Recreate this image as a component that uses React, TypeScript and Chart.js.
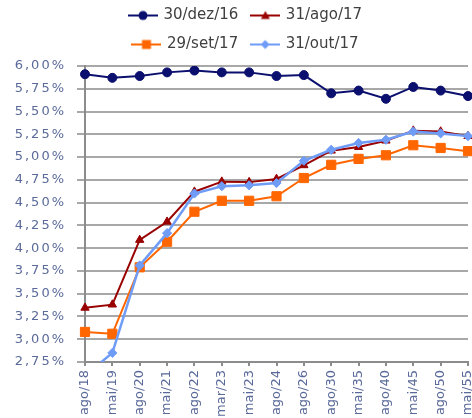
import React, { useEffect, useRef } from 'react';
import { Chart, registerables } from 'chart.js';

Chart.register(...registerables);

const categories = ['ago/18', 'mai/19', 'ago/20', 'mai/21', 'ago/22', 'mar/23', 'mai/23', 'ago/24', 'ago/26', 'ago/30', 'mai/35', 'ago/40', 'mai/45', 'ago/50', 'mai/55'];
const seriesNames = ['30/dez/16', '31/ago/17', '29/set/17', '31/out/17'];
const dez16 = [5.91, 5.87, 5.89, 5.93, 5.95, 5.93, 5.93, 5.89, 5.9, 5.7, 5.73, 5.64, 5.77, 5.73, 5.67];
const ago17 = [3.345, 3.38, 4.09, 4.29, 4.62, 4.73, 4.725, 4.76, 4.91, 5.07, 5.11, 5.18, 5.29, 5.28, 5.23];
const set17 = [3.08, 3.06, 3.79, 4.07, 4.4, 4.52, 4.52, 4.57, 4.77, 4.915, 4.98, 5.02, 5.13, 5.1, 5.065];
const out17 = [2.6, 2.85, 3.81, 4.165, 4.6, 4.68, 4.69, 4.715, 4.96, 5.08, 5.155, 5.19, 5.28, 5.26, 5.23];
const yMin = 2.75;
const yMax = 6.0;
const yStep = 0.25;

const FONT = 'DejaVu Sans';
const colors = ['#0b0f6e', '#990000', '#ff6600', '#6f9cf7'];
const markers = ['circle', 'triangle', 'rect', 'rectRot'];

function makeSample(color: string, marker: string): HTMLCanvasElement {
  const c = document.createElement('canvas');
  c.width = 30;
  c.height = 14;
  const ctx = c.getContext('2d')!;
  ctx.strokeStyle = color;
  ctx.fillStyle = color;
  ctx.lineWidth = 2;
  ctx.beginPath();
  ctx.moveTo(0, 7);
  ctx.lineTo(30, 7);
  ctx.stroke();
  ctx.beginPath();
  if (marker === 'circle') {
    ctx.arc(15, 7, 4.5, 0, Math.PI * 2);
  } else if (marker === 'triangle') {
    ctx.moveTo(15, 2.5);
    ctx.lineTo(19.5, 10.5);
    ctx.lineTo(10.5, 10.5);
    ctx.closePath();
  } else if (marker === 'rect') {
    ctx.rect(10.5, 2.5, 9, 9);
  } else {
    ctx.moveTo(15, 2.5);
    ctx.lineTo(19.5, 7);
    ctx.lineTo(15, 11.5);
    ctx.lineTo(10.5, 7);
    ctx.closePath();
  }
  ctx.fill();
  return c;
}

export default function App() {
  const ref = useRef<HTMLCanvasElement>(null);

  useEffect(() => {
    const canvas = ref.current!;
    const samples = colors.map((c, i) => makeSample(c, markers[i]));
    const seriesData = [dez16, ago17, set17, out17];
    const radii = [4.5, 4.8, 6.5, 4.6];
    const widths = [2, 2, 2, 2.5];
    const orders = [3, 2, 1, 0];

    const spacingPlugin = {
      id: 'yLabelSpacing',
      afterDatasetsDraw(chart: any) {
        chart.ctx.letterSpacing = '2px';
      },
      afterDraw(chart: any) {
        chart.ctx.letterSpacing = '0px';
      },
    };

    const chart = new Chart(canvas, {
      type: 'line',
      data: {
        labels: categories,
        datasets: seriesNames.map((name, i) => ({
          label: name,
          data: seriesData[i],
          borderColor: colors[i],
          backgroundColor: colors[i],
          pointBackgroundColor: colors[i],
          pointBorderColor: colors[i],
          pointStyle: markers[i] as any,
          pointRadius: radii[i],
          pointBorderWidth: 1,
          borderWidth: widths[i],
          tension: 0,
          order: orders[i],
        })),
      },
      options: {
        animation: false,
        responsive: false,
        maintainAspectRatio: false,
        layout: { padding: 0 },
        plugins: {
          legend: {
            position: 'top',
            labels: {
              usePointStyle: true,
              pointStyleWidth: 26,
              padding: 14,
              color: '#404040',
              font: { family: FONT, size: 15 },
              generateLabels: (ch: any) =>
                ch.data.datasets.map((ds: any, i: number) => ({
                  text: ds.label,
                  fillStyle: colors[i],
                  strokeStyle: colors[i],
                  lineWidth: 0,
                  pointStyle: samples[i],
                  hidden: !ch.isDatasetVisible(i),
                  datasetIndex: i,
                  fontColor: '#404040',
                })),
            },
          },
          title: {
            display: true,
            text: '',
            position: 'top',
            weight: 500,
            padding: { top: 4, bottom: 0 },
            font: { size: 1, lineHeight: 0 },
          } as any,
          tooltip: { enabled: false },
        },
        scales: {
          x: {
            ticks: {
              autoSkip: false,
              minRotation: 90,
              maxRotation: 90,
              padding: 4,
              color: '#5a6a9a',
              font: { family: FONT, size: 13 },
            },
            grid: { drawOnChartArea: false, tickLength: 4, color: '#8c8c8c', lineWidth: 2 },
            border: { color: '#8c8c8c', width: 2 },
            afterFit: (s: any) => {
              s.height = 56;
              s.paddingRight = 24;
            },
          },
          y: {
            min: yMin,
            max: yMax,
            ticks: {
              stepSize: yStep,
              autoSkip: false,
              padding: 11,
              color: '#5a6a9a',
              font: { family: FONT, size: 13 },
              z: 1,
              callback: (v: any) => Number(v).toFixed(2).replace('.', ',') + '%',
            },
            grid: { color: '#a8a8a8', lineWidth: 2, tickLength: 8 },
            border: { color: '#8c8c8c', width: 2 },
            afterFit: (s: any) => {
              s.width = 85;
            },
          },
        },
      },
      plugins: [spacingPlugin],
    });

    const lg: any = (chart as any).legend;
    if (lg) {
      const origFit = lg.fit;
      lg.fit = function () {
        const m = this.maxWidth;
        this.maxWidth = 300;
        origFit.call(this);
        this.maxWidth = m;
      };
      chart.update();
    }

    return () => chart.destroy();
  }, []);

  return (
    <div style={{ position: 'absolute', left: 0, top: 0, width: 472, height: 418, overflow: 'hidden', background: '#fff' }}>
      <canvas ref={ref} width={492} height={424} style={{ position: 'absolute', left: 0, top: -6, display: 'block' }} />
    </div>
  );
}
